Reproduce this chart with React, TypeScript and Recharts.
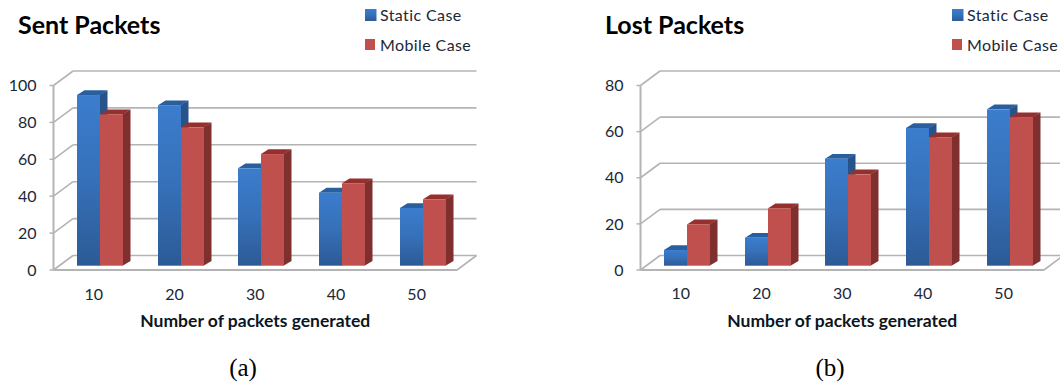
import { BarChart, Bar, XAxis, YAxis, CartesianGrid, Legend } from 'recharts';

const packetCounts = [10, 20, 30, 40, 50];

const sentStatic = [92.5, 87, 52.8, 39.6, 31.3];
const sentMobile = [82, 75, 60.5, 44.7, 36];
const sentTicks = [0, 20, 40, 60, 80, 100];

const lostStatic = [6.8, 12.1, 46.4, 59.7, 67.8];
const lostMobile = [17.9, 24.9, 39.6, 55.7, 64.4];
const lostTicks = [0, 20, 40, 60, 80];

const toRows = (staticCase: number[], mobileCase: number[]) =>
  packetCounts.map((count, i) => ({ count, staticCase: staticCase[i], mobileCase: mobileCase[i] }));

// 3D look: the back wall sits up and to the right of the axis plane, bars stand halfway in
const WALL_DX = 19.5;
const WALL_DY = 14.5;
const BAR_DX = 5.8;
const BAR_DY = 4.3;
const SIDE_DX = 7.5;
const SIDE_DY = 4.8;

const LINE_COLOR = '#b4b4b4';
const TEXT_COLOR = '#1b2838';
const FONT = 'Lato, sans-serif';

function Prism({ x, y, width, height, fill, side, top }: any) {
  // whole-pixel edges so the front face and side meet without a light seam
  const left = Math.round(x + BAR_DX);
  const right = left + Math.round(width);
  const upper = y - BAR_DY;
  const lower = upper + height;
  return (
    <g>
      <polygon
        points={`${left},${upper} ${left + SIDE_DX},${upper - SIDE_DY} ${right + SIDE_DX},${upper - SIDE_DY} ${right},${upper}`}
        fill={top}
      />
      <polygon
        points={`${right - 0.5},${upper} ${right + SIDE_DX},${upper - SIDE_DY} ${right + SIDE_DX},${lower - SIDE_DY} ${right - 0.5},${lower}`}
        fill={side}
      />
      <rect x={left} y={upper} width={right - left} height={height} fill={fill} />
    </g>
  );
}

// one horizontal gridline: runs along the back wall and folds down the side wall to the axis
function WallLine({ x1, x2, y1, floorY }: any) {
  const isFloor = Math.abs(y1 - floorY) < 0.5;
  return (
    <g stroke={LINE_COLOR} strokeWidth={1.6} fill="none">
      <line x1={x1 + WALL_DX} x2={x2 + WALL_DX} y1={y1 - WALL_DY} y2={y1 - WALL_DY} />
      <line x1={x1} x2={x1 + WALL_DX} y1={y1} y2={y1 - WALL_DY} />
      {isFloor && <line x1={x2} x2={x2 + WALL_DX} y1={y1} y2={y1 - WALL_DY} />}
    </g>
  );
}

function LegendBox({ payload, gradientId }: any) {
  return (
    <div style={{ fontFamily: FONT, fontSize: 16, color: TEXT_COLOR, letterSpacing: 0.4 }}>
      {payload.map((entry: any, i: number) => (
        <div key={entry.value} style={{ display: 'flex', alignItems: 'center', height: 30, whiteSpace: 'nowrap' }}>
          <svg width={15} height={12}>
            <rect x={0} y={0} width={i === 0 ? 11.5 : 10} height={i === 0 ? 12 : 11} fill={i === 0 ? `url(#${gradientId})` : entry.color} />
          </svg>
          {entry.value}
        </div>
      ))}
    </div>
  );
}

function Panel({ left, title, caption, staticCase, mobileCase, ticks, tickMargin, id }: any) {
  const floorY = 270;
  const gradientId = `${id}-static`;
  return (
    <div style={{ position: 'absolute', left, top: 0, width: 480, height: 385 }}>
      <BarChart
        width={480}
        height={385}
        data={toRows(staticCase, mobileCase)}
        margin={{ top: 85.5, right: 23, left: 0, bottom: 55 }}
        barGap={0}
        barCategoryGap="22%"
      >
        <defs>
          <linearGradient id={gradientId} x1="0" y1="0" x2="0" y2="1">
            <stop offset="0%" stopColor="#3b7dcd" />
            <stop offset="50%" stopColor="#3670b8" />
            <stop offset="100%" stopColor="#2c5a96" />
          </linearGradient>
        </defs>
        <CartesianGrid
          vertical={false}
          horizontal={(props: any) => <WallLine key={props.key} {...props} floorY={floorY} />}
        />
        <XAxis
          dataKey="count"
          height={60}
          axisLine={{ stroke: LINE_COLOR, strokeWidth: 2 }}
          tickLine={false}
          tickMargin={tickMargin}
          tick={{ fill: TEXT_COLOR, fontSize: 16, fontFamily: FONT }}
          label={{
            value: 'Number of packets generated',
            position: 'insideBottom',
            offset: 3,
            fill: '#0c1622',
            fontSize: 17.5,
            fontWeight: 700,
            fontFamily: FONT,
          }}
        />
        <YAxis
          width={53.5}
          domain={[0, ticks[ticks.length - 1]]}
          ticks={ticks}
          interval={0}
          axisLine={{ stroke: LINE_COLOR, strokeWidth: 2 }}
          tickLine={{ stroke: LINE_COLOR, strokeWidth: 1.5 }}
          tickSize={4}
          tickMargin={13}
          tick={{ fill: TEXT_COLOR, fontSize: 16, fontFamily: FONT }}
        />
        <Legend
          layout="horizontal"
          verticalAlign="middle"
          itemSorter={null}
          content={<LegendBox gradientId={gradientId} />}
          wrapperStyle={{ left: 365, top: -0.5, width: 115, height: 60 }}
        />
        <Bar
          dataKey="staticCase"
          name="Static Case"
          fill={`url(#${gradientId})`}
          isAnimationActive={false}
          shape={(props: any) => <Prism {...props} side="#27528a" top="#2a5f9f" />}
        />
        <Bar
          dataKey="mobileCase"
          name="Mobile Case"
          fill="#c0504d"
          isAnimationActive={false}
          shape={(props: any) => <Prism {...props} side="#7f2f2e" top="#96302e" />}
        />
      </BarChart>
      <div style={{ position: 'absolute', left: 18, top: 9, fontFamily: FONT, fontWeight: 700, fontSize: 25, color: '#000', whiteSpace: 'nowrap' }}>
        {title}
      </div>
      <div style={{ position: 'absolute', left: 0, width: 486, top: 354, textAlign: 'center', fontFamily: '"Liberation Serif", serif', fontSize: 25, color: '#000' }}>
        {caption}
      </div>
    </div>
  );
}

export default function App() {
  return (
    <div style={{ position: 'absolute', left: 0, top: 0, width: 1060, height: 385, overflow: 'hidden', background: '#fff' }}>
      <Panel id="sent" left={0} title="Sent Packets" caption="(a)" staticCase={sentStatic} mobileCase={sentMobile} ticks={sentTicks} tickMargin={13} />
      <Panel id="lost" left={587} title="Lost Packets" caption="(b)" staticCase={lostStatic} mobileCase={lostMobile} ticks={lostTicks} tickMargin={12} />
    </div>
  );
}
